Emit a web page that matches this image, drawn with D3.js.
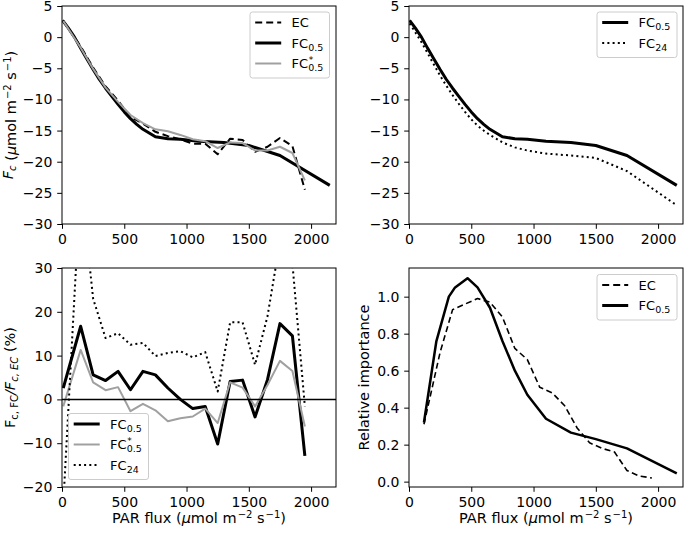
<!DOCTYPE html>
<html>
<head>
<meta charset="utf-8">
<script src="https://cdn.jsdelivr.net/npm/d3@7"></script>
<style>
body { margin: 0; background: #fff; }
svg text { font-family: "DejaVu Sans", sans-serif; fill: #000; }
</style>
</head>
<body>
<script>

// PAR bins used for EC and the ratios (umol m-2 s-1)
var binX = [10, 150, 250, 350, 450, 550, 650, 750, 850, 950, 1050, 1150, 1250, 1350, 1450, 1550, 1650, 1750, 1850, 1950];
var ecFlux = [2.6, -1.5, -4.9, -7.9, -10.2, -12.8, -13.9, -15.2, -15.9, -16.4, -17.1, -17.1, -18.8, -16.3, -16.5, -18.4, -17.6, -16.2, -17.5, -24.5];
var fcStarFlux = [2.6, -1.7, -5.1, -8.1, -10.4, -12.5, -13.8, -14.8, -15.1, -15.7, -16.4, -16.7, -17.8, -16.9, -17.0, -18.2, -18.2, -17.6, -18.6, -23.0];

// light response curves of the flux chamber
var fcX = [5, 50, 100, 150, 200, 250, 300, 350, 400, 450, 500, 550, 600, 650, 700, 750, 850, 950, 1100, 1300, 1500, 1750, 2150];
var fcFlux = [2.7, 1.5, 0, -1.8, -3.5, -5.2, -6.8, -8.2, -9.5, -10.8, -12.0, -13.1, -14.0, -14.8, -15.4, -16.0, -16.3, -16.4, -16.7, -16.9, -17.4, -19.0, -23.8];
var fc24Flux = [2.2, 0.8, -0.8, -2.6, -4.4, -6.2, -7.8, -9.3, -10.7, -12.0, -13.2, -14.2, -15.0, -15.7, -16.3, -16.9, -17.7, -18.2, -18.7, -19.0, -19.4, -21.5, -27.0];

// F_c,FC / F_c,EC differences (%)
var ratioFC = [2.6, 16.7, 5.6, 4.3, 6.4, 2.2, 6.4, 5.6, 2.6, 0, -2.1, -1.6, -10.2, 4.1, 4.4, -4.0, 4.5, 17.3, 14.5, -12.9];
var ratioFCStar = [-1.6, 11.3, 3.9, 2.1, 2.8, -2.7, -1.0, -2.5, -5.0, -4.3, -3.9, -2.1, -5.4, 3.9, 2.7, -1.6, 3.3, 8.8, 6.5, -6.2];
var ratioFC24 = [-24, 50, 23, 14.0, 15.1, 12.5, 12.9, 9.9, 10.6, 11.0, 9.6, 10.8, 1.8, 17.6, 17.6, 7.9, 19, 36, 31, -1.6];

// relative importance
var ecImpX = [120, 250, 350, 450, 550, 650, 750, 850, 950, 1050, 1150, 1250, 1350, 1450, 1550, 1650, 1750, 1850, 1950];
var ecImp = [0.31, 0.70, 0.93, 0.96, 0.99, 0.97, 0.89, 0.72, 0.66, 0.51, 0.48, 0.41, 0.29, 0.21, 0.18, 0.16, 0.06, 0.03, 0.02];
var fcImpX = [120, 220, 320, 370, 470, 550, 650, 750, 850, 950, 1100, 1300, 1500, 1750, 2150];
var fcImp = [0.32, 0.76, 1.0, 1.05, 1.10, 1.05, 0.94, 0.76, 0.60, 0.47, 0.34, 0.265, 0.23, 0.18, 0.045];

var xTicks = [0, 500, 1000, 1500, 2000];
var fluxTicks = [-30, -25, -20, -15, -10, -5, 0, 5];
var ratioTicks = [-20, -10, 0, 10, 20, 30];
var impTicks = [0, 0.2, 0.4, 0.6, 0.8, 1.0];

var W = 685, H = 534;
var FS = 14;    // tick labels
var LFS = 14.5; // axis labels
var GFS = 13;   // legend
var GRAY = "#a0a0a0";

var svg = d3.select("body").append("svg")
    .attr("width", W)
    .attr("height", H);

// one axes box: left, top, width, height
var makePanel = function(id, left, top, w, h, xDom, yDom){
    var g = svg.append("g").attr("transform", "translate(" + left + "," + top + ")");
    var x = d3.scaleLinear().domain(xDom).range([0, w]);
    var y = d3.scaleLinear().domain(yDom).range([h, 0]);
    g.append("clipPath").attr("id", id).append("rect").attr("width", w).attr("height", h);
    var plot = g.append("g").attr("clip-path", "url(#" + id + ")");
    return {g: g, plot: plot, x: x, y: y, w: w, h: h, left: left, top: top};
};

var drawAxes = function(p, yTicks, yFmt){
    var ax = p.g.append("g").attr("transform", "translate(0," + p.h + ")")
        .call(d3.axisBottom(p.x).tickValues(xTicks).tickSize(4.8).tickPadding(4.8).tickFormat(d3.format("d")));
    var ay = p.g.append("g")
        .call(d3.axisLeft(p.y).tickValues(yTicks).tickSize(4.8).tickPadding(4.8).tickFormat(yFmt));
    [ax, ay].forEach(function(a){
        a.select(".domain").remove();
        a.attr("font-size", FS).attr("font-family", null);
        a.selectAll("line").attr("stroke", "#000").attr("stroke-width", 1);
    });
    p.g.append("rect").attr("width", p.w).attr("height", p.h)
        .attr("fill", "none").attr("stroke", "#000").attr("stroke-width", 1);
};

var drawLine = function(p, xs, ys, color, width, dash){
    var line = d3.line()
        .x(function(d){ return p.x(d[0]); })
        .y(function(d){ return p.y(d[1]); });
    p.plot.append("path")
        .datum(d3.zip(xs, ys))
        .attr("d", line)
        .attr("fill", "none")
        .attr("stroke", color)
        .attr("stroke-width", width)
        .attr("stroke-dasharray", dash || null)
        .attr("stroke-linejoin", "round");
};

// label with optional subscript / superscript (FC_0.5, FC*_0.5 ...), one text node
var drawLabel = function(g, x, y, base, sub, sup){
    var t = g.append("text").attr("x", x).attr("y", y).attr("font-size", GFS);
    t.append("tspan").text(base);
    var back = 0;
    if (sup) {
        var s = t.append("tspan").attr("dy", -5).attr("dx", 0.5).attr("font-size", 9).text(sup);
        back = s.node().getComputedTextLength() + 0.5;
    }
    if (sub) t.append("tspan").attr("dx", -back).attr("dy", sup ? 8 : 3).attr("font-size", 9.5).text(sub);
};

var STY = {
    ec: {color: "#000", width: 2, dash: "7,4"},
    fc: {color: "#000", width: 3},
    fcs: {color: GRAY, width: 2},
    fc24: {color: "#000", width: 2, dash: "2,3.2"}
};
var NAMES = {
    ec: ["EC", null, null],
    fc: ["FC", "0.5", null],
    fcs: ["FC", "0.5", "*"],
    fc24: ["FC", "24", null]
};

// legend box in page coords
var drawLegend = function(bx, by, bw, keys){
    var g = svg.append("g");
    var bh = keys.length * 20.5 + 4.5;
    g.append("rect").attr("x", bx).attr("y", by).attr("width", bw).attr("height", bh)
        .attr("rx", 2.5).attr("fill", "#fff").attr("fill-opacity", 0.8)
        .attr("stroke", "#cccccc").attr("stroke-width", 1);
    keys.forEach(function(k, i){
        var ry = by + 10.5 + i * 20.5;
        var s = STY[k];
        g.append("line").attr("x1", bx + 5.2).attr("x2", bx + 31.2).attr("y1", ry).attr("y2", ry)
            .attr("stroke", s.color).attr("stroke-width", s.width)
            .attr("stroke-dasharray", s.dash || null);
        drawLabel(g, bx + 41.6, ry + 4.7, NAMES[k][0], NAMES[k][1], NAMES[k][2]);
    });
};

var unitLabel = function(t){
    t.append("tspan").text(" (");
    t.append("tspan").attr("font-style", "italic").text("\u03bc");
    t.append("tspan").text("mol m");
    t.append("tspan").attr("dy", -5).attr("dx", 1).attr("font-size", 10).text("\u22122");
    t.append("tspan").attr("dy", 5).text(" s");
    t.append("tspan").attr("dy", -5).attr("dx", 1).attr("font-size", 10).text("\u22121");
    t.append("tspan").attr("dy", 5).text(")");
};

var xLabel = function(p){
    var t = svg.append("text").attr("x", p.left + p.w / 2).attr("y", 523)
        .attr("text-anchor", "middle").attr("font-size", LFS);
    t.append("tspan").text("PAR flux");
    unitLabel(t);
};

var yLabelGroup = function(x, y){
    return svg.append("text").attr("transform", "translate(" + x + "," + y + ") rotate(-90)")
        .attr("text-anchor", "middle").attr("font-size", LFS);
};

// ---- panel a: fluxes EC vs FC
var pA = makePanel("clipA", 62, 6, 274, 218, [0, 2200], [-30, 5]);
drawAxes(pA, fluxTicks, d3.format("d"));
drawLine(pA, binX, ecFlux, STY.ec.color, STY.ec.width, STY.ec.dash);
drawLine(pA, fcX, fcFlux, STY.fc.color, STY.fc.width);
drawLine(pA, binX, fcStarFlux, STY.fcs.color, STY.fcs.width);
drawLegend(250, 12, 79.5, ["ec", "fc", "fcs"]);

var yl = yLabelGroup(13, 115);
yl.append("tspan").attr("font-style", "italic").text("F");
yl.append("tspan").attr("font-style", "italic").attr("dy", 3).attr("font-size", 10).text("c");
yl.append("tspan").attr("dy", -3).text("");
unitLabel(yl);

// ---- panel b: FC 0.5 vs FC 24
var pB = makePanel("clipB", 409, 6, 274, 218, [0, 2200], [-30, 5]);
drawAxes(pB, fluxTicks, d3.format("d"));
drawLine(pB, fcX, fcFlux, STY.fc.color, STY.fc.width);
drawLine(pB, fcX, fc24Flux, STY.fc24.color, STY.fc24.width, STY.fc24.dash);
drawLegend(597, 12, 80, ["fc", "fc24"]);

// ---- panel c: relative differences
var pC = makePanel("clipC", 62, 268, 274, 219, [0, 2200], [-20, 30]);
drawAxes(pC, ratioTicks, d3.format("d"));
drawLine(pC, binX, ratioFC, STY.fc.color, STY.fc.width);
drawLine(pC, binX, ratioFCStar, STY.fcs.color, STY.fcs.width);
drawLine(pC, binX, ratioFC24, STY.fc24.color, STY.fc24.width, STY.fc24.dash);
pC.plot.append("line").attr("x1", 0).attr("x2", pC.w)
    .attr("y1", pC.y(0)).attr("y2", pC.y(0))
    .attr("stroke", "#000").attr("stroke-width", 1.5);
drawLegend(68.5, 413.5, 80, ["fc", "fcs", "fc24"]);
xLabel(pC);

var yc = yLabelGroup(15, 377.5);
yc.append("tspan").text("F");
yc.append("tspan").attr("dy", 3).attr("font-size", 10).text("c, FC");
yc.append("tspan").attr("dy", -3).attr("font-style", "italic").text("/F");
yc.append("tspan").attr("dy", 3).attr("font-size", 10).attr("font-style", "italic").text("c, EC");
yc.append("tspan").attr("dy", -3).text(" (%)");

// ---- panel d: relative importance
var pD = makePanel("clipD", 409, 268, 274, 219, [0, 2200], [-0.029, 1.155]);
drawAxes(pD, impTicks, d3.format(".1f"));
drawLine(pD, ecImpX, ecImp, STY.ec.color, 1.6, "6,3.5");
drawLine(pD, fcImpX, fcImp, STY.fc.color, 2.5);
drawLegend(597, 274.5, 80, ["ec", "fc"]);
xLabel(pD);

yLabelGroup(369, 377.5).text("Relative importance");

</script>
</body>
</html>
